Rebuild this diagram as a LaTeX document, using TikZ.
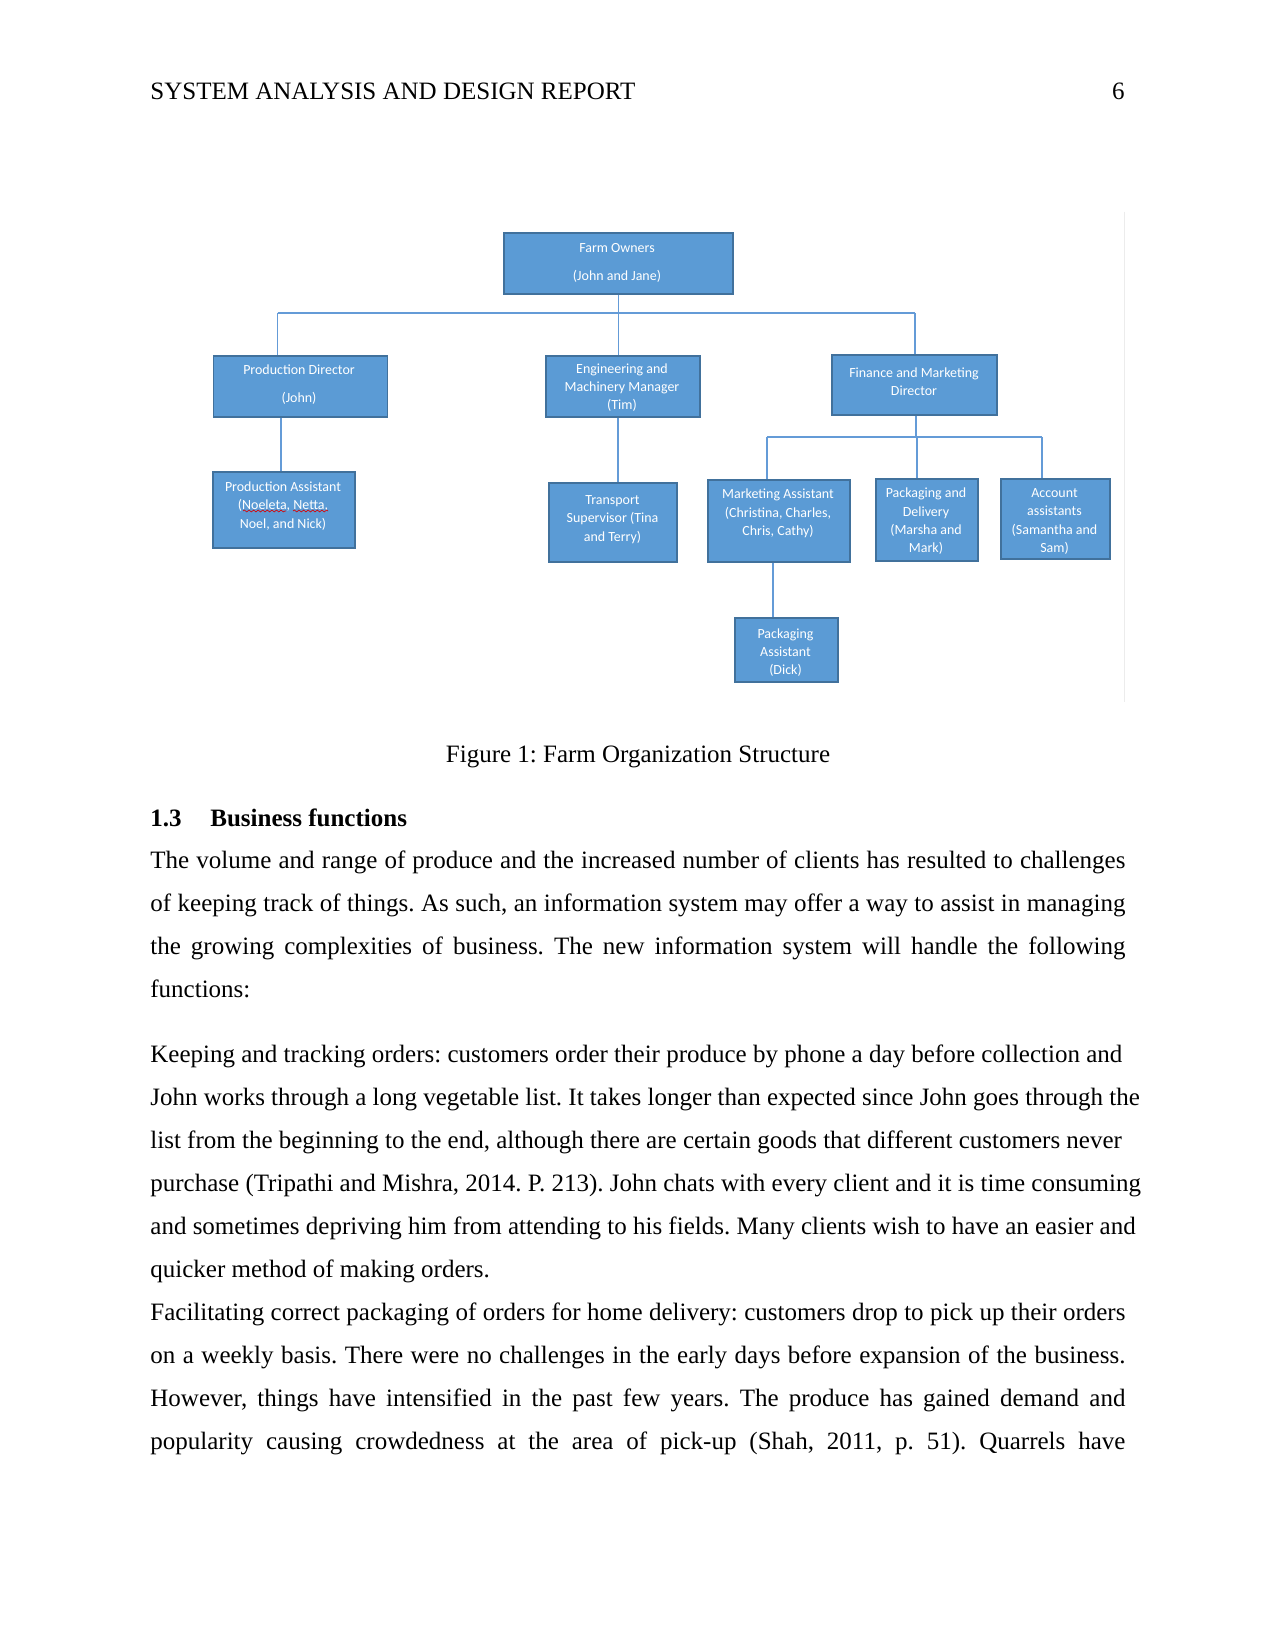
\documentclass[tikz,border=0pt]{standalone}
\usepackage{fontspec}
\setmainfont{Liberation Serif}
\newfontfamily\boxfont{Carlito}
\usetikzlibrary{decorations.pathmorphing}
\definecolor{boxfill}{RGB}{91,155,213}
\definecolor{boxedge}{RGB}{65,113,156}
\definecolor{connblue}{RGB}{100,155,215}
\definecolor{faintgray}{RGB}{236,236,236}
\frenchspacing
\begin{document}
\begin{tikzpicture}[x=0.48pt,y=-0.48pt,
  orgbox/.style 2 args={draw=boxedge, line width=0.6pt, fill=boxfill,
     minimum width=#1*0.48pt, minimum height=#2*0.48pt, inner sep=0pt},
  boxtext/.style={text=white, font=\boxfont\fontsize{6.7}{8.8}\selectfont, align=center, inner sep=0pt},
  conn/.style={draw=connblue, line width=0.6pt},
  bodytext/.style={font=\fontsize{12}{14}\selectfont, inner sep=0pt, anchor=base west},
  spell/.style={draw=red!85!black, line width=0.3pt, decorate,
     decoration={snake, amplitude=0.45pt, segment length=2.2pt}}
]
\fill[white] (0,0) rectangle (1275,1650);
\useasboundingbox (0,0) rectangle (1275,1650);

% header
\node[bodytext] (hdr) at (150,99.5) {SYSTEM ANALYSIS AND DESIGN REPORT};
\node[bodytext, anchor=base east] (pg) at (1125,99.5) {6};

% faint frame line of the pasted picture
\draw[faintgray, line width=0.6pt] (1124.7,212) -- (1124.7,702);

% boxes
\node[orgbox={229}{61}] (owners) at (618.5,263.5) {};
\node[orgbox={174}{61}] (prod) at (300.5,386.5) {};
\node[orgbox={154}{61}] (eng) at (623,386.5) {};
\node[orgbox={165}{60}] (fin) at (914.5,385) {};
\node[orgbox={142}{76}] (passt) at (284,510) {};
\node[orgbox={128}{79}] (trans) at (613,522.5) {};
\node[orgbox={142}{82}] (mkt) at (779,521) {};
\node[orgbox={102}{82}] (pdel) at (927,520) {};
\node[orgbox={109}{80}] (acct) at (1055.5,519) {};
\node[orgbox={103}{64}] (pkasst) at (786.5,650) {};

% box texts
\node[boxtext] (owners-t) at (617,263) {Farm Owners\\[4.6pt](John and Jane)};
\node[boxtext] (prod-t) at (299,385) {Production Director\\[4.6pt](John)};
\node[boxtext] (eng-t) at (622,387.5) {Engineering and\\Machinery Manager\\(Tim)};
\node[boxtext] (fin-t) at (914,381.5) {Finance and Marketing\\Director};
\node[boxtext] (passt-t) at (283,506) {Production Assistant\\(Noeleta, Netta,\\Noel, and Nick)};
\node[boxtext] (trans-t) at (612.5,519.5) {Transport\\Supervisor (Tina\\and Terry)};
\node[boxtext] (mkt-t) at (778,513.5) {Marketing Assistant\\(Christina, Charles,\\Chris, Cathy)};
\node[boxtext] (pdel-t) at (926,521.5) {Packaging and\\Delivery\\(Marsha and\\Mark)};
\node[boxtext] (acct-t) at (1054.5,521.5) {Account\\assistants\\(Samantha and\\Sam)};
\node[boxtext] (pkasst-t) at (785.5,652.5) {Packaging\\Assistant\\(Dick)};

% spell-check underlines
\draw[spell] (243,511) -- (286,511);
\draw[spell] (293,511) -- (328,511);

% connectors
\coordinate (busL) at (277.5,313);
\coordinate (busR) at (915,313);
\coordinate (xpa) at (281,0);
\coordinate (xtr) at (618,0);
\coordinate (finbus) at (916,437);
\coordinate (xmk) at (767,0);
\coordinate (xpd) at (917,0);
\coordinate (xac) at (1042,0);
\coordinate (xpk) at (773,0);

\draw[conn] (owners.south) -- (owners.south |- busL);
\draw[conn] (busL) -- (busR);
\draw[conn] (busL) -- (busL |- prod.north);
\draw[conn] (owners.south |- busL) -- (owners.south |- eng.north);
\draw[conn] (busR) -- (busR |- fin.north);
\draw[conn] (xpa |- prod.south) -- (xpa |- passt.north);
\draw[conn] (xtr |- eng.south) -- (xtr |- trans.north);
\draw[conn] (finbus |- fin.south) -- (finbus);
\draw[conn] (xmk |- finbus) -- (xac |- finbus);
\draw[conn] (xmk |- finbus) -- (xmk |- mkt.north);
\draw[conn] (xpd |- finbus) -- (xpd |- pdel.north);
\draw[conn] (xac |- finbus) -- (xac |- acct.north);
\draw[conn] (xpk |- mkt.south) -- (xpk |- pkasst.north);

% caption and heading
\node[bodytext, anchor=base] (cap) at (638,762.5) {Figure 1: Farm Organization Structure};
\node[bodytext, font=\fontsize{12}{14}\selectfont\bfseries] (secnum) at (150,826) {1.3};
\node[bodytext, font=\fontsize{12}{14}\selectfont\bfseries] (sectitle) at (210,826) {Business functions};

% body
\node[bodytext] (l1) at (150,868.5) {\makebox[468pt][s]{The volume and range of produce and the increased number of clients has resulted to challenges}};
\node[bodytext] (l2) at (150,911.5) {\makebox[468pt][s]{of keeping track of things. As such, an information system may offer a way to assist in managing}};
\node[bodytext] (l3) at (150,954.5) {\makebox[468pt][s]{the growing complexities of business. The new information system will handle the following}};
\node[bodytext] (l4) at (150,997.5) {functions:};

\node[bodytext] (m1) at (150,1062.5) {Keeping and tracking orders: customers order their produce by phone a day before collection and};
\node[bodytext] (m2) at (150,1105.5) {John works through a long vegetable list. It takes longer than expected since John goes through the};
\node[bodytext] (m3) at (150,1148.5) {list from the beginning to the end, although there are certain goods that different customers never};
\node[bodytext] (m4) at (150,1191.5) {purchase (Tripathi and Mishra, 2014. P. 213). John chats with every client and it is time consuming};
\node[bodytext] (m5) at (150,1234.5) {and sometimes depriving him from attending to his fields. Many clients wish to have an easier and};
\node[bodytext] (m6) at (150,1277.5) {quicker method of making orders.};

\node[bodytext] (n1) at (150,1320.5) {\makebox[468pt][s]{Facilitating correct packaging of orders for home delivery: customers drop to pick up their orders}};
\node[bodytext] (n2) at (150,1363.5) {\makebox[468pt][s]{on a weekly basis. There were no challenges in the early days before expansion of the business.}};
\node[bodytext] (n3) at (150,1406.5) {\makebox[468pt][s]{However, things have intensified in the past few years. The produce has gained demand and}};
\node[bodytext] (n4) at (150,1449.5) {\makebox[468pt][s]{popularity causing crowdedness at the area of pick-up (Shah, 2011, p. 51). Quarrels have}};
\end{tikzpicture}
\end{document}
